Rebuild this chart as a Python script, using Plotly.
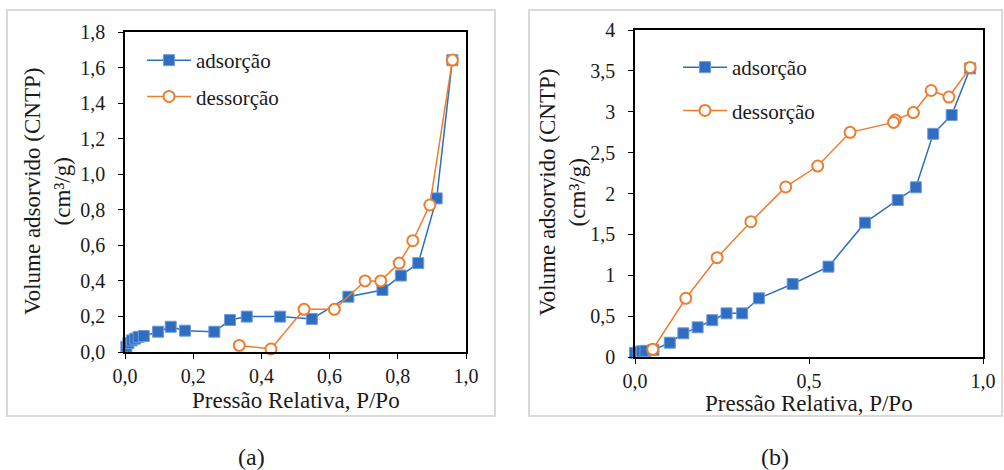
import plotly.graph_objects as go

# ---- Data (a) ----
a_ads_x = [0.004, 0.01, 0.02, 0.03, 0.04, 0.055, 0.097, 0.134, 0.176, 0.262, 0.308, 0.357, 0.455, 0.548, 0.655, 0.755, 0.809, 0.86, 0.914, 0.96]
a_ads_y = [0.03, 0.05, 0.065, 0.075, 0.085, 0.09, 0.114, 0.142, 0.12, 0.114, 0.18, 0.199, 0.199, 0.186, 0.311, 0.349, 0.43, 0.50, 0.864, 1.642]
a_des_x = [0.96, 0.894, 0.844, 0.804, 0.75, 0.704, 0.614, 0.525, 0.428, 0.335]
a_des_y = [1.642, 0.827, 0.626, 0.50, 0.40, 0.40, 0.24, 0.24, 0.017, 0.037]

# ---- Data (b) ----
b_ads_x = [0.0, 0.01, 0.02, 0.03, 0.053, 0.1, 0.139, 0.18, 0.222, 0.263, 0.308, 0.356, 0.453, 0.556, 0.661, 0.755, 0.807, 0.857, 0.91, 0.963]
b_ads_y = [0.05, 0.06, 0.07, 0.075, 0.086, 0.175, 0.29, 0.363, 0.45, 0.534, 0.534, 0.718, 0.893, 1.105, 1.643, 1.92, 2.076, 2.73, 2.96, 3.53]
b_des_x = [0.963, 0.902, 0.851, 0.80, 0.748, 0.743, 0.618, 0.525, 0.433, 0.333, 0.236, 0.146, 0.051]
b_des_y = [3.54, 3.18, 3.26, 2.99, 2.90, 2.87, 2.748, 2.336, 2.08, 1.655, 1.215, 0.718, 0.094]

a_xticks = [0, 0.2, 0.4, 0.6, 0.8, 1.0]
a_yticks = [0, 0.2, 0.4, 0.6, 0.8, 1.0, 1.2, 1.4, 1.6, 1.8]
b_xticks = [0, 0.5, 1.0]
b_yticks = [0, 0.5, 1, 1.5, 2, 2.5, 3, 3.5, 4]

series_names = ["adsorção", "dessorção"]
x_title = "Pressão Relativa, P/Po"
y_title = "Volume adsorvido (CNTP)<br>(cm³/g)"
panel_labels = ["(a)", "(b)"]

BLUE = "#2E6DC0"
BLUE_EDGE = "#6F9BDA"
ORANGE = "#EE7D2E"
FONT = "Liberation Serif"
TXT = "#1a1a1a"

W, H = 1004, 470

def px_x(p):
    return p / W

def px_y(p):
    return 1 - p / H

fig = go.Figure()

def add_pair(ax, ay, dx, dy, xa, ya, leg):
    fig.add_trace(go.Scatter(
        x=ax, y=ay, name=series_names[0], mode="lines+markers",
        xaxis=xa, yaxis=ya, legend=leg, legendgroup=leg + "a",
        line=dict(color=BLUE, width=1.5),
        marker=dict(symbol="square", size=11, color=BLUE, line=dict(color=BLUE_EDGE, width=1)),
        cliponaxis=False))
    fig.add_trace(go.Scatter(
        x=dx, y=dy, name=series_names[1], mode="lines+markers",
        xaxis=xa, yaxis=ya, legend=leg, legendgroup=leg + "d",
        line=dict(color=ORANGE, width=1.5),
        marker=dict(symbol="circle", size=11, color="white", line=dict(color=ORANGE, width=2)),
        cliponaxis=False))

add_pair(a_ads_x, a_ads_y, a_des_x, a_des_y, "x", "y", "legend")
add_pair(b_ads_x, b_ads_y, b_des_x, b_des_y, "x2", "y2", "legend2")

axis_common = dict(showline=True, linecolor="black", linewidth=1.5, mirror=True,
                   ticks="outside", ticklen=5, tickcolor="black", tickwidth=1.2,
                   showgrid=False, zeroline=False, automargin=False,
                   tickfont=dict(family=FONT, size=20, color=TXT))

fig.update_layout(
    width=W, height=H, margin=dict(l=0, r=0, t=0, b=0, autoexpand=False),
    paper_bgcolor="white", plot_bgcolor="white",
    separators=",.",
    showlegend=True,
    xaxis=dict(domain=[px_x(125), px_x(466)], range=[0, 1], tickvals=a_xticks,
               tickformat=".1f", anchor="y", **axis_common),
    yaxis=dict(domain=[px_y(352), px_y(32)], range=[0, 1.8], tickvals=a_yticks,
               tickformat=".1f", anchor="x", ticklabelstandoff=9, **axis_common),
    xaxis2=dict(domain=[px_x(635), px_x(983)], range=[0, 1], tickvals=b_xticks,
                tickformat=".1f", anchor="y2", **axis_common),
    yaxis2=dict(domain=[px_y(357), px_y(30)], range=[0, 4], tickvals=b_yticks,
                anchor="x2", ticklabelstandoff=9, **axis_common),
    legend=dict(x=px_x(142), y=px_y(40), xanchor="left", yanchor="top",
                bgcolor="rgba(0,0,0,0)", tracegroupgap=6, itemwidth=44,
                font=dict(family=FONT, size=21, color=TXT)),
    legend2=dict(x=px_x(678), y=px_y(47), xanchor="left", yanchor="top",
                 bgcolor="rgba(0,0,0,0)", tracegroupgap=13, itemwidth=44,
                 font=dict(family=FONT, size=21, color=TXT)),
)

# Outer light-gray frames
for (x0, y0, x1, y1) in [(7, 10, 495, 416), (529, 10, 1002, 416)]:
    fig.add_shape(type="rect", xref="paper", yref="paper",
                  x0=px_x(x0), x1=px_x(x1), y0=px_y(y1), y1=px_y(y0),
                  line=dict(color="#d9d9d9", width=2), layer="below")

# Axis titles
for cx, cy in [(296, 400), (809, 403)]:
    fig.add_annotation(text=x_title, xref="paper", yref="paper",
                       x=px_x(cx), y=px_y(cy), xanchor="center", yanchor="middle",
                       showarrow=False, font=dict(family=FONT, size=23, color=TXT))
for cx, cy in [(48, 192), (562, 193)]:
    fig.add_annotation(text=y_title, xref="paper", yref="paper", textangle=-90,
                       x=px_x(cx), y=px_y(cy), xanchor="center", yanchor="middle",
                       showarrow=False, font=dict(family=FONT, size=23, color=TXT))

# Panel labels
for lab, cx in zip(panel_labels, [251, 775]):
    fig.add_annotation(text=lab, xref="paper", yref="paper",
                       x=px_x(cx), y=px_y(457), xanchor="center", yanchor="middle",
                       showarrow=False, font=dict(family=FONT, size=24, color=TXT))

fig.write_html("out.html", config={"displayModeBar": False},
               post_script="document.body.style.margin='0';")
